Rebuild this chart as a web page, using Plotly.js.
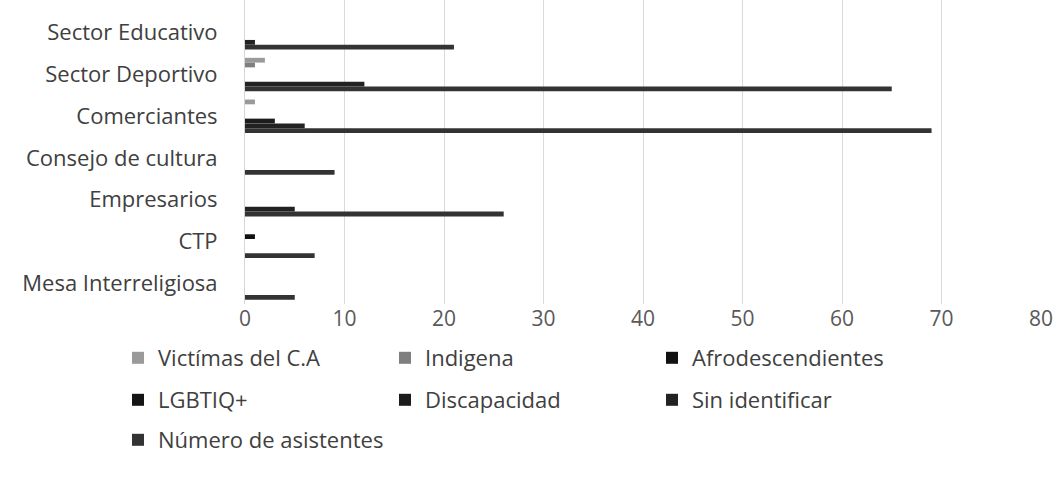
<!DOCTYPE html>
<html>
<head>
<meta charset="utf-8">
<script src="https://cdn.plot.ly/plotly-3.0.1.min.js"></script>
<style>html,body{margin:0;padding:0;background:#fff;}#chart{width:1058px;height:501px;}</style>
</head>
<body>
<div id="chart"></div>
<script>
const categories = ["Sector Educativo", "Sector Deportivo", "Comerciantes", "Consejo de cultura", "Empresarios", "CTP", "Mesa Interreligiosa"];
const seriesNames = ["Victímas del C.A", "Indigena", "Afrodescendientes", "LGBTIQ+", "Discapacidad", "Sin identificar", "Número de asistentes"];
const victimas      = [0, 2, 1, 0, 0, 0, 0];
const indigena      = [0, 1, 0, 0, 0, 0, 0];
const afro          = [0, 0, 0, 0, 0, 1, 0];
const lgbtiq        = [0, 0, 0, 0, 0, 0, 0];
const discapacidad  = [0, 0, 3, 0, 0, 0, 0];
const sinIdentificar= [1, 12, 6, 0, 5, 0, 0];
const asistentes    = [21, 65, 69, 9, 26, 7, 5];
const xTicks = [0, 10, 20, 30, 40, 50, 60, 70, 80];

const seriesValues = [victimas, indigena, afro, lgbtiq, discapacidad, sinIdentificar, asistentes];
const colors = ["#9a9a9a", "#7f7f7f", "#111111", "#151515", "#1c1c1c", "#222222", "#333333"];
const legendIds = ["legend", "legend", "legend", "legend2", "legend2", "legend2", "legend3"];

const traces = seriesNames.map((name, i) => ({
  type: "bar",
  orientation: "h",
  name: name,
  y: categories,
  x: seriesValues[i],
  legend: legendIds[i],
  marker: {color: colors[i], line: {width: 0}},
  hoverinfo: "x+name"
}));

const fam = "'Open Sans', Lato, sans-serif";
const plotLeft = 245, plotW = 796, plotH = 304;
function lx(px){ return (px - plotLeft) / plotW; }
function ly(py){ return (plotH - py) / plotH; }
const legendBase = {
  orientation: "h", xanchor: "left", yanchor: "middle",
  entrywidth: 222, entrywidthmode: "pixels",
  font: {family: fam, size: 22, color: "#404040"},
  bgcolor: "rgba(0,0,0,0)", borderwidth: 0, itemclick: false, itemdoubleclick: false
};

const layout = {
  width: 1058, height: 501,
  margin: {l: plotLeft, r: 1058 - plotLeft - plotW, t: 0, b: 501 - plotH, pad: 0},
  paper_bgcolor: "#ffffff", plot_bgcolor: "#ffffff",
  font: {family: fam, size: 22, color: "#404040"},
  barmode: "group", bargap: 0.2, bargroupgap: 0,
  xaxis: {
    range: [0, 80], tickvals: xTicks, ticktext: xTicks.map(String),
    showgrid: true, gridcolor: "#dadada", gridwidth: 1,
    zeroline: false, showline: false, ticks: "",
    tickfont: {family: fam, size: 21, color: "#595959"}
  },
  yaxis: {
    type: "category", range: [6.5, -0.786],
    showgrid: false, zeroline: false,
    showline: true, linecolor: "#d6d6d6", linewidth: 1,
    ticks: "outside", ticklen: 22, tickcolor: "rgba(0,0,0,0)",
    tickfont: {family: fam, size: 22, color: "#404040"}
  },
  showlegend: true,
  legend: Object.assign({}, legendBase, {x: lx(118), y: ly(358)}),
  legend2: Object.assign({}, legendBase, {x: lx(118), y: ly(400)}),
  legend3: Object.assign({}, legendBase, {x: lx(118), y: ly(440)})
};

Plotly.newPlot("chart", traces, layout, {displayModeBar: false, staticPlot: true});
</script>
</body>
</html>
